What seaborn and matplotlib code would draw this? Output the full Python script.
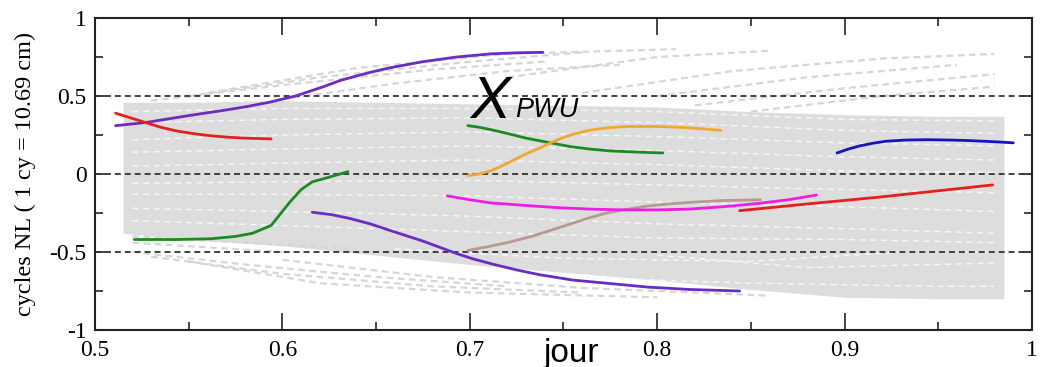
import numpy as np
import pandas as pd
import matplotlib
matplotlib.use("Agg")
import matplotlib.pyplot as plt
import seaborn as sns

# ---------------------------------------------------------------- data
# highlighted tracks (day fraction, cycles)
purple_hi_x = [0.511, 0.527, 0.540, 0.553, 0.567, 0.580, 0.593, 0.607, 0.622, 0.631, 0.640,
               0.648, 0.657, 0.666, 0.675, 0.684, 0.693, 0.702, 0.711, 0.725, 0.739]
purple_hi_y = [0.31, 0.33, 0.355, 0.38, 0.405, 0.43, 0.46, 0.50, 0.56, 0.60, 0.63,
               0.655, 0.68, 0.70, 0.72, 0.735, 0.75, 0.76, 0.77, 0.777, 0.78]

red_hi_x = [0.511, 0.519, 0.527, 0.535, 0.544, 0.553, 0.562, 0.571, 0.580, 0.594]
red_hi_y = [0.39, 0.36, 0.33, 0.30, 0.275, 0.258, 0.245, 0.236, 0.23, 0.225]

green_lo_x = [0.521, 0.544, 0.562, 0.575, 0.584, 0.594, 0.604, 0.610, 0.616, 0.625, 0.635]
green_lo_y = [-0.42, -0.42, -0.415, -0.40, -0.38, -0.33, -0.18, -0.10, -0.05, -0.02, 0.015]

purple_lo_x = [0.616, 0.626, 0.636, 0.647, 0.657, 0.666, 0.675, 0.684, 0.693, 0.702, 0.713,
               0.725, 0.737, 0.755, 0.773, 0.795, 0.817, 0.844]
purple_lo_y = [-0.245, -0.26, -0.285, -0.32, -0.36, -0.395, -0.43, -0.47, -0.51, -0.545, -0.58,
               -0.615, -0.645, -0.68, -0.70, -0.725, -0.74, -0.75]

green_mid_x = [0.699, 0.705, 0.711, 0.720, 0.730, 0.743, 0.754, 0.764, 0.775, 0.790, 0.803]
green_mid_y = [0.31, 0.30, 0.285, 0.26, 0.23, 0.20, 0.175, 0.16, 0.148, 0.14, 0.135]

orange_x = [0.699, 0.705, 0.711, 0.716, 0.720, 0.726, 0.732, 0.738, 0.743, 0.749, 0.754,
            0.760, 0.766, 0.775, 0.785, 0.800, 0.815, 0.834]
orange_y = [-0.01, 0.0, 0.02, 0.045, 0.07, 0.105, 0.14, 0.17, 0.20, 0.23, 0.25,
            0.27, 0.285, 0.298, 0.305, 0.305, 0.298, 0.28]

magenta_x = [0.688, 0.700, 0.711, 0.728, 0.746, 0.764, 0.782, 0.800, 0.817, 0.835, 0.853, 0.870, 0.885]
magenta_y = [-0.14, -0.165, -0.185, -0.20, -0.215, -0.225, -0.23, -0.23, -0.225, -0.21, -0.19, -0.165, -0.135]

brown_x = [0.699, 0.710, 0.720, 0.733, 0.746, 0.755, 0.764, 0.773, 0.782, 0.795, 0.808, 0.820, 0.835, 0.855]
brown_y = [-0.49, -0.465, -0.44, -0.40, -0.35, -0.315, -0.28, -0.25, -0.23, -0.205, -0.19, -0.18, -0.17, -0.165]

blue_x = [0.896, 0.902, 0.908, 0.915, 0.922, 0.933, 0.944, 0.955, 0.965, 0.978, 0.990]
blue_y = [0.135, 0.16, 0.18, 0.197, 0.21, 0.218, 0.22, 0.218, 0.215, 0.208, 0.20]

red_lo_x = [0.844, 0.886, 0.917, 0.948, 0.979]
red_lo_y = [-0.235, -0.185, -0.15, -0.11, -0.07]

# envelope of the full ensemble of background tracks
band_x = [0.515, 0.55, 0.60, 0.65, 0.70, 0.75, 0.80, 0.85, 0.90, 0.95, 0.985]
band_hi = [0.46, 0.46, 0.47, 0.46, 0.45, 0.44, 0.43, 0.40, 0.38, 0.37, 0.37]
band_lo = [-0.38, -0.42, -0.46, -0.52, -0.58, -0.63, -0.68, -0.74, -0.79, -0.80, -0.80]

# sparse background tracks above the band
upper_tracks = [
    ([0.53, 0.60, 0.68, 0.74], [0.47, 0.57, 0.67, 0.72]),
    ([0.55, 0.62, 0.70, 0.76], [0.50, 0.62, 0.72, 0.78]),
    ([0.56, 0.64, 0.72, 0.81], [0.52, 0.68, 0.77, 0.80]),
    ([0.60, 0.66, 0.72, 0.78], [0.48, 0.58, 0.66, 0.70]),
    ([0.72, 0.80, 0.86], [0.62, 0.75, 0.79]),
    ([0.76, 0.84, 0.92, 0.98], [0.52, 0.66, 0.74, 0.77]),
    ([0.80, 0.88, 0.96], [0.50, 0.62, 0.70]),
    ([0.82, 0.90, 0.98], [0.44, 0.55, 0.64]),
    ([0.85, 0.92, 0.98], [0.40, 0.50, 0.56]),
]

# sparse background tracks below the band
lower_tracks = [
    ([0.52, 0.58, 0.65, 0.72], [-0.50, -0.58, -0.66, -0.72]),
    ([0.53, 0.60, 0.68, 0.76], [-0.53, -0.64, -0.72, -0.76]),
    ([0.55, 0.62, 0.70, 0.80], [-0.56, -0.70, -0.76, -0.79]),
    ([0.60, 0.68, 0.76, 0.86], [-0.55, -0.66, -0.73, -0.78]),
    ([0.52, 0.56, 0.60], [-0.44, -0.47, -0.50]),
    ([0.52, 0.58, 0.64], [-0.40, -0.44, -0.48]),
]

# light gaps between the dense background tracks
gap_tracks = [
    ([0.52, 0.60, 0.70, 0.80, 0.90, 0.98], [0.40, 0.42, 0.42, 0.40, 0.35, 0.34]),
    ([0.52, 0.60, 0.70, 0.80, 0.90, 0.98], [0.33, 0.35, 0.36, 0.33, 0.28, 0.26]),
    ([0.52, 0.60, 0.70, 0.80, 0.90, 0.98], [0.22, 0.25, 0.27, 0.24, 0.20, 0.18]),
    ([0.52, 0.60, 0.70, 0.80, 0.90, 0.98], [0.14, 0.16, 0.18, 0.15, 0.11, 0.09]),
    ([0.52, 0.60, 0.70, 0.80, 0.90, 0.98], [0.05, 0.07, 0.09, 0.06, 0.02, 0.01]),
    ([0.52, 0.60, 0.70, 0.80, 0.90, 0.98], [-0.06, -0.05, -0.04, -0.07, -0.10, -0.12]),
    ([0.52, 0.60, 0.70, 0.80, 0.90, 0.98], [-0.13, -0.13, -0.14, -0.18, -0.21, -0.24]),
    ([0.52, 0.60, 0.70, 0.80, 0.90, 0.98], [-0.22, -0.24, -0.27, -0.32, -0.35, -0.38]),
    ([0.52, 0.60, 0.70, 0.80, 0.90, 0.98], [-0.30, -0.33, -0.37, -0.41, -0.42, -0.44]),
    ([0.66, 0.75, 0.85, 0.93, 0.98], [-0.48, -0.54, -0.56, -0.50, -0.50]),
    ([0.80, 0.88, 0.95, 0.98], [-0.52, -0.60, -0.58, -0.57]),
    ([0.75, 0.85, 0.95, 0.98], [-0.66, -0.70, -0.72, -0.72]),
]

ref_levels = [0.5, 0.0, -0.5]
x_ticks = [0.5, 0.6, 0.7, 0.8, 0.9, 1.0]
x_tick_labels = ["0.5", "0.6", "0.7", "0.8", "0.9", "1"]
y_ticks = [-1, -0.5, 0, 0.5, 1]
y_tick_labels = ["-1", "-0.5", "0", "0.5", "1"]

tracks = [
    (purple_hi_x, purple_hi_y, "#6a2cc4"),
    (red_hi_x, red_hi_y, "#e3201c"),
    (green_lo_x, green_lo_y, "#1c8a22"),
    (purple_lo_x, purple_lo_y, "#6a2cc4"),
    (green_mid_x, green_mid_y, "#1c8a22"),
    (orange_x, orange_y, "#f0a830"),
    (brown_x, brown_y, "#b89890"),
    (magenta_x, magenta_y, "#ec1ee4"),
    (blue_x, blue_y, "#1414c0"),
    (red_lo_x, red_lo_y, "#e3201c"),
]

# ---------------------------------------------------------------- figure
sns.set_style("white")
serif = ["Liberation Serif", "DejaVu Serif"]
sans = ["Liberation Sans", "DejaVu Sans"]

fig = plt.figure(figsize=(10.4, 3.67), dpi=100)
ax = fig.add_axes([0.0913, 0.1008, 0.9010, 0.8501])

# background ensemble
ax.fill_between(band_x, band_lo, band_hi, color="#dddddd", lw=0, zorder=1)
for xs, ys in upper_tracks + lower_tracks:
    sns.lineplot(x=xs, y=ys, ax=ax, color="#d6d6d6", lw=1.6, sort=False,
                 estimator=None, zorder=2)
    ax.lines[-1].set_linestyle((0, (3.0, 2.0)))
for xs, ys in gap_tracks:
    sns.lineplot(x=xs, y=ys, ax=ax, color="#f6f6f6", lw=1.1, sort=False,
                 estimator=None, zorder=2)
    ax.lines[-1].set_linestyle((0, (4.0, 3.0)))

# reference levels
for lev in ref_levels:
    ax.axhline(lev, color="#333333", lw=1.3, ls=(0, (3.3, 2.2)), zorder=3)

# highlighted tracks
for xs, ys, col in tracks:
    df = pd.DataFrame({"jour": xs, "cycles": ys})
    sns.lineplot(data=df, x="jour", y="cycles", ax=ax, color=col, lw=2.0,
                 sort=False, estimator=None, zorder=4)

ax.set_xlim(0.5, 1.0)
ax.set_ylim(-1, 1)
ax.set_xticks(x_ticks)
ax.set_xticklabels(x_tick_labels, family=serif, fontsize=17, color="black")
ax.set_yticks(y_ticks)
ax.set_yticklabels(y_tick_labels, family=serif, fontsize=17, color="black")
ax.set_xticks([0.55, 0.65, 0.75, 0.85, 0.95], minor=True)
ax.set_yticks([-0.75, -0.25, 0.25, 0.75], minor=True)
ax.tick_params(axis="x", which="major", direction="in", length=12, width=1.4,
               color="#444444", top=True, bottom=True, pad=7)
ax.tick_params(axis="x", which="minor", direction="in", length=6, width=1.4,
               color="#444444", top=True, bottom=True)
ax.tick_params(axis="y", which="major", direction="in", length=7, width=1.4,
               color="#444444", left=True, right=True, pad=6)
ax.tick_params(axis="y", which="minor", direction="in", length=6, width=1.4,
               color="#444444", left=True, right=True)
for sp in ax.spines.values():
    sp.set_color("#222222")
    sp.set_linewidth(1.5)
    sp.set_zorder(5)

ax.set_xlabel("")
ax.set_ylabel("cycles NL ( 1 cy = 10.69 cm)", family=serif, fontsize=17.5,
              labelpad=10, color="black")

ax.text(0.700, 0.36, "X", family=sans, style="italic", fontsize=43, color="black",
        ha="left", va="baseline", zorder=6)
ax.text(0.724, 0.365, "PWU", family=sans, style="italic", fontsize=19.5, color="black",
        ha="left", va="baseline", zorder=6)
fig.text(572 / 1040, 1 - 362 / 367, "jour", family=sans, fontsize=24, color="black",
         ha="center", va="baseline")

fig.savefig("out.png", dpi=100)
